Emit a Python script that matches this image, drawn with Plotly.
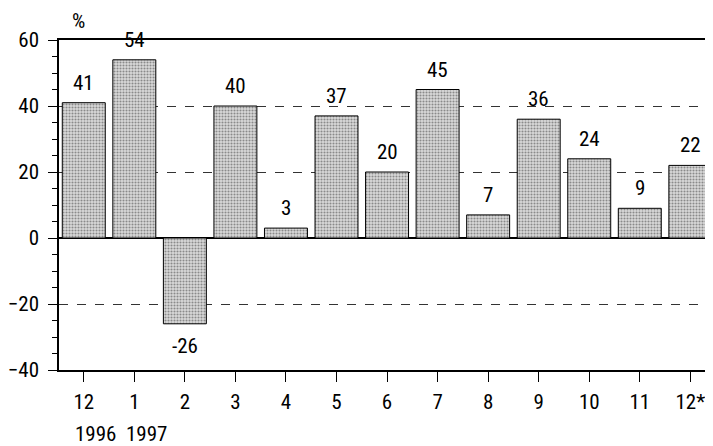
import plotly.graph_objects as go

months = ["12", "1", "2", "3", "4", "5", "6", "7", "8", "9", "10", "11", "12*"]
values = [41, 54, -26, 40, 3, 37, 20, 45, 7, 36, 24, 9, 22]
years = {"12": "1996", "1": "1997"}
y_ticks = [-40, -20, 0, 20, 40, 60]

FONT = "Liberation Sans Narrow, Arial Narrow, Roboto Condensed, sans-serif"
FS = 21
xs = list(range(len(months)))

fig = go.Figure()
fig.add_trace(go.Bar(
    x=xs, y=values,
    cliponaxis=False,
    marker=dict(
        color="#d4d4d4",
        line=dict(color="black", width=1),
        pattern=dict(shape=".", fgcolor="#3a3a3a", bgcolor="#dadada", size=3, solidity=0.4),
    ),
    width=0.85,
))

for i, v in enumerate(values):
    pos = v >= 0
    fig.add_annotation(x=i, y=v, xref="x", yref="y", text=str(v), showarrow=False,
                       yanchor="bottom" if pos else "top", yshift=6 if pos else -8,
                       font=dict(family=FONT, size=FS, color="black"))

for i, m in enumerate(months):
    if m in years:
        fig.add_annotation(x=i, y=-0.194, xref="x", yref="paper", text=years[m],
                           showarrow=False, font=dict(family=FONT, size=FS, color="black"),
                           yanchor="middle", xshift=12)

fig.add_annotation(x=0.0177, y=1.058, xref="paper", yref="paper", text="%", showarrow=False,
                   font=dict(family=FONT, size=FS, color="black"), yanchor="middle")

fig.update_layout(
    width=697, height=438,
    margin=dict(l=49, r=0, t=32, b=76),
    paper_bgcolor="white", plot_bgcolor="white",
    showlegend=False,
    font=dict(family=FONT, size=FS, color="black"),
)
fig.update_xaxes(
    range=[-0.49, 12.29],
    tickmode="array", tickvals=xs, ticktext=months,
    showline=True, linecolor="black", linewidth=1.5, mirror=True,
    ticks="outside", ticklen=10, tickcolor="black", tickwidth=1,
    showgrid=False, zeroline=False,
    tickfont=dict(family=FONT, size=FS, color="black"),
    ticklabelstandoff=2,
    ticklabeloverflow="allow",
)
fig.update_yaxes(
    range=[-40, 60], tickvals=y_ticks,
    showline=True, linecolor="black", linewidth=1.5,
    ticks="outside", ticklen=9, tickcolor="black", tickwidth=1,
    minor=dict(dtick=5, ticklen=5, tickcolor="black", ticks="outside", showgrid=False),
    showgrid=True, gridcolor="#333333", griddash="dash", gridwidth=1,
    zeroline=True, zerolinecolor="black", zerolinewidth=1.5,
    tickfont=dict(family=FONT, size=FS, color="black"),
    ticklabelstandoff=5,
)

fig.write_html("out.html")
